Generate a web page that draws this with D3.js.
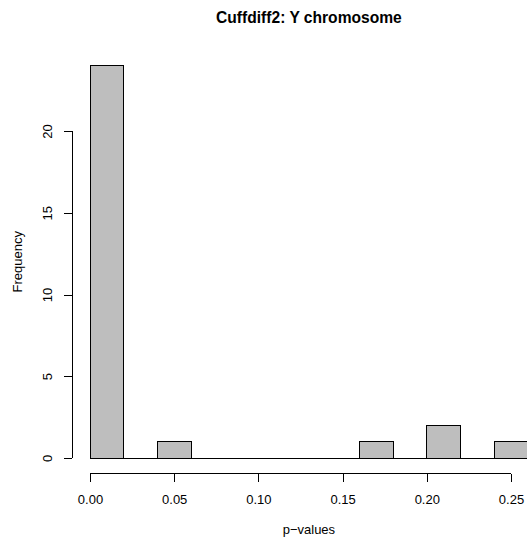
<!DOCTYPE html>
<html>
<head>
<meta charset="utf-8">
<script src="https://cdn.jsdelivr.net/npm/d3@7"></script>
<style>
  html, body { margin: 0; padding: 0; background: #fff; }
  svg { display: block; }
  text { font-family: "Liberation Sans", Arial, Helvetica, sans-serif; fill: #000; }
</style>
</head>
<body>
<svg id="chart" width="527" height="538"></svg>
<script>
// Histogram of p-values, bins of width 0.02
const binStarts = [0.00, 0.02, 0.04, 0.06, 0.08, 0.10, 0.12, 0.14, 0.16, 0.18, 0.20, 0.22, 0.24];
const binWidth = 0.02;
const counts = [24, 0, 1, 0, 0, 0, 0, 0, 1, 0, 2, 0, 1];
const xTicks = [0.00, 0.05, 0.10, 0.15, 0.20, 0.25];
const yTicks = [0, 5, 10, 15, 20];

const titleText = "Cuffdiff2: Y chromosome";
const xLabel = "p\u2212values";
const yLabel = "Frequency";

const axisFont = 13;
const titleFont = 15.6;

const svg = d3.select("#chart");
const W = 527, H = 538;

const x = d3.scaleLinear().domain([0, 0.25]).range([90, 511]);
const y = d3.scaleLinear().domain([0, 20]).range([458, 131]);

// Plot region extends 4% beyond the data range, as in base graphics
const xMin = x(-0.0104), xMax = x(0.2704);
const yBottom = y(-0.96), yTop = y(24.96);
const midX = (xMin + xMax) / 2;
const midY = (yTop + yBottom) / 2;

svg.append("clipPath").attr("id", "plotclip")
  .append("rect").attr("x", 0).attr("y", 0).attr("width", W).attr("height", H);

const binData = binStarts.map((b, i) => ({ b, c: counts[i] }));

const bars = svg.append("g").attr("clip-path", "url(#plotclip)");
bars.selectAll("rect")
  .data(binData)
  .join("rect")
  .attr("x", d => x(d.b))
  .attr("y", d => y(d.c))
  .attr("width", d => x(d.b + binWidth) - x(d.b))
  .attr("height", d => y(0) - y(d.c))
  .attr("fill", "#bebebe")
  .attr("stroke", "#000")
  .attr("stroke-width", 1)
  .attr("shape-rendering", "crispEdges");

// Zero-height bins show as a line at the baseline
bars.selectAll("line.zero")
  .data(binData.filter(d => d.c === 0))
  .join("line")
  .attr("class", "zero")
  .attr("x1", d => x(d.b)).attr("x2", d => x(d.b + binWidth))
  .attr("y1", y(0)).attr("y2", y(0))
  .attr("stroke", "#000").attr("stroke-width", 1)
  .attr("shape-rendering", "crispEdges");

// X axis along the bottom of the plot region
const xAxis = d3.axisBottom(x).tickValues(xTicks).tickFormat(d3.format(".2f"))
  .tickSizeInner(8).tickSizeOuter(0).tickPadding(0);
const gx = svg.append("g").attr("transform", `translate(0,${yBottom})`).call(xAxis);
gx.select(".domain").remove();
gx.append("line")
  .attr("x1", x(xTicks[0])).attr("x2", x(xTicks[xTicks.length - 1]))
  .attr("y1", 0).attr("y2", 0);
gx.selectAll("line").attr("stroke", "#000").attr("shape-rendering", "crispEdges");
gx.selectAll(".tick text")
  .attr("font-size", axisFont)
  .style("font-family", "Liberation Sans, Arial, sans-serif")
  .attr("dy", null)
  .attr("y", 30);

// Y axis along the left of the plot region, labels rotated
const yAxis = d3.axisLeft(y).tickValues(yTicks).tickFormat(d3.format("d"))
  .tickSizeInner(8).tickSizeOuter(0);
const gy = svg.append("g").attr("transform", `translate(${xMin},0)`).call(yAxis);
gy.select(".domain").remove();
gy.append("line")
  .attr("y1", y(yTicks[0])).attr("y2", y(yTicks[yTicks.length - 1]))
  .attr("x1", 0).attr("x2", 0);
gy.selectAll("line").attr("stroke", "#000").attr("shape-rendering", "crispEdges");
gy.selectAll(".tick text")
  .attr("font-size", axisFont)
  .style("font-family", "Liberation Sans, Arial, sans-serif")
  .attr("x", 0).attr("y", 0).attr("dy", null)
  .attr("text-anchor", "middle")
  .attr("transform", "translate(-20,0) rotate(-90)");

// Title
svg.append("text")
  .attr("x", midX).attr("y", 23)
  .attr("text-anchor", "middle")
  .attr("font-size", titleFont).attr("font-weight", "bold")
  .text(titleText);

// Axis titles
svg.append("text")
  .attr("x", midX).attr("y", 534)
  .attr("text-anchor", "middle").attr("font-size", axisFont)
  .text(xLabel);

svg.append("text")
  .attr("transform", `translate(22,${midY}) rotate(-90)`)
  .attr("text-anchor", "middle").attr("font-size", axisFont)
  .text(yLabel);
</script>
</body>
</html>
